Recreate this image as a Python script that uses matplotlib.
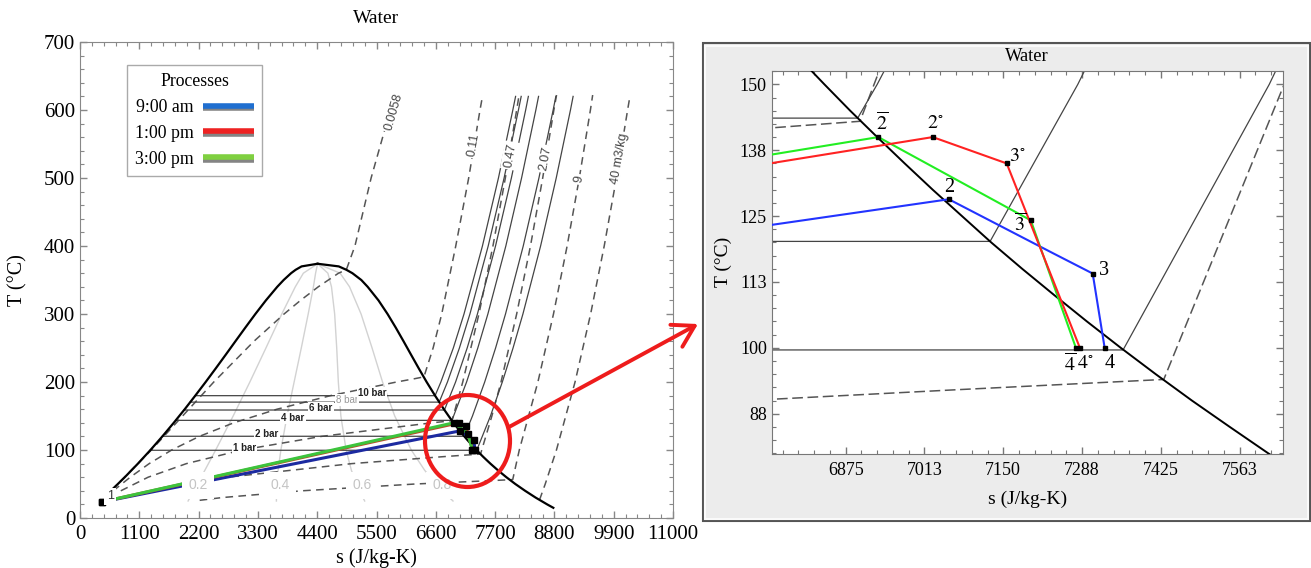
import numpy as np
import matplotlib.pyplot as plt
from matplotlib.ticker import AutoMinorLocator
from matplotlib.patches import Ellipse, Rectangle, FancyArrowPatch
from matplotlib.lines import Line2D
import matplotlib.patheffects as pe

plt.rcParams['font.family'] = ['Liberation Serif', 'DejaVu Serif']
plt.rcParams['mathtext.fontset'] = 'stix'

# saturation dome of water (T in C, s in J/kg-K)
t_liq = [40, 60, 80, 100, 120, 140, 160, 180, 200, 220, 240, 260, 280, 300, 320, 340, 350, 360, 365, 370, 373.9]
s_liq = [572, 831, 1075, 1307, 1528, 1739, 1943, 2139, 2331, 2518, 2702, 2884, 3067, 3253, 3448, 3659, 3778, 3915, 4000, 4110, 4407]
t_vap = [373.9, 370, 365, 360, 350, 340, 320, 300, 280, 260, 240, 220, 200, 180, 160, 155, 150, 145, 140, 135,
         130, 125, 120, 115, 110, 105, 100, 95, 90, 85, 80, 70, 60, 50, 40, 30, 20, 15]
s_vap = [4407, 4800, 4941, 5053, 5218, 5336, 5537, 5705, 5857, 6001, 6142, 6284, 6430, 6586, 6750, 6794, 6838, 6883, 6930, 6978,
         7027, 7078, 7129, 7183, 7239, 7296, 7355, 7416, 7479, 7545, 7612, 7755, 7909, 8075, 8257, 8452, 8666, 8780]

# isobars: flat part inside the dome + superheated part
p_names = ['1 bar', '2 bar', '4 bar', '6 bar', '8 bar', '10 bar']
p_tsat = [99.6, 120.2, 143.6, 158.8, 170.4, 179.9]
p_sf = [1303, 1530, 1777, 1931, 2046, 2138]
p_sg = [7359, 7127, 6896, 6760, 6663, 6587]
sup_t = [[150, 200, 250, 300, 400, 500, 600, 620],
         [150, 200, 250, 300, 400, 500, 600, 620],
         [150, 200, 250, 300, 400, 500, 600, 620],
         [200, 250, 300, 400, 500, 600, 620],
         [200, 250, 300, 400, 500, 600, 620],
         [200, 250, 300, 400, 500, 600, 620]]
sup_s = [[7614, 7834, 8033, 8216, 8544, 8834, 9098, 9147],
         [7280, 7507, 7709, 7893, 8222, 8513, 8777, 8827],
         [6930, 7171, 7379, 7566, 7899, 8191, 8456, 8506],
         [6967, 7182, 7372, 7708, 8002, 8267, 8317],
         [6816, 7038, 7233, 7572, 7867, 8133, 8184],
         [6694, 6925, 7123, 7465, 7762, 8029, 8080]]
p_lbl_s = [3060, 3470, 3950, 4470, 4950, 5420]

# isochores (m3/kg)
v_names = ['0.0058', '0.11', '0.47', '2.07', '9', '40 m3/kg']
v_t = [[40, 100, 200, 260, 300, 320, 340, 360, 365, 400, 500, 570],
       [40, 60, 80, 100, 120, 140, 160, 180, 200, 205, 207.6, 250, 300, 400, 500, 600, 622],
       [40, 60, 80, 100, 120, 140, 143, 200, 300, 400, 500, 600, 622],
       [40, 60, 80, 90, 92, 94, 150, 200, 300, 400, 500, 600, 622],
       [26, 30, 40, 50, 55, 56.5, 100, 200, 300, 400, 500, 600, 622],
       [26.6, 50, 100, 200, 300, 400, 500, 600, 622]]
v_s = [[574, 1324, 2482, 3228, 3785, 4090, 4420, 4795, 4940, 5100, 5400, 5650],
       [615, 932, 1284, 1701, 2213, 2852, 3655, 4651, 5872, 6217, 6380, 6550, 6710, 6970, 7210, 7420, 7470],
       [757, 1264, 1975, 3005, 4477, 6530, 6900, 7100, 7400, 7660, 7890, 8100, 8145],
       [1387, 2741, 5046, 6704, 7060, 7430, 7640, 7810, 8100, 8356, 8583, 8790, 8840],
       [2220, 2630, 4116, 6219, 7643, 8027, 8149, 8494, 8783, 9036, 9262, 9468, 9510],
       [8524, 8630, 8838, 9183, 9472, 9724, 9951, 10158, 10205]]
v_lbl_s = [5830, 7300, 7980, 8630, 9250, 10010]
v_lbl_t = [597, 549, 533, 528, 498, 528]
v_lbl_rot = [74, 80, 80, 80, 80, 80]

# quality lines
q_names = ['0.2', '0.4', '0.6', '0.8']
q_t = [25, 40, 70, 100, 150, 200, 250, 300, 340, 360, 373.9]
q_s = [[2005, 2110, 2315, 2517, 2841, 3151, 3449, 3743, 3994, 4143, 4407],
       [3643, 3646, 3675, 3726, 3840, 3972, 4105, 4233, 4330, 4370, 4407],
       [5281, 5183, 5035, 4936, 4839, 4792, 4762, 4724, 4665, 4598, 4407],
       [6919, 6720, 6395, 6145, 5838, 5612, 5418, 5214, 5000, 4825, 4407]]
q_lbl_s = [2190, 3710, 5230, 6720]

# processes
proc_names = ['9:00 am', '1:00 pm', '3:00 pm']
blue_s = [400, 7055, 7236, 7306, 7327]
blue_t = [23.5, 128.2, 118.0, 114.1, 99.9]
red_s = [400, 7027, 7156, 7284]
red_t = [23.5, 140.0, 135.0, 99.9]
green_s = [400, 6932, 7198, 7277]
green_t = [23.5, 140.0, 124.2, 99.9]
blue_states = [0, 1, 3, 4]

state_lbl = [r'$\overline{2}$', r'$2^{\circ}$', r'$3^{\circ}$', '2', r'$\overline{3}$', '3',
             r'$\overline{4}$', r'$4^{\circ}$', '4']
state_lbl_s = [6939, 7032, 7175, 7055, 7180, 7325, 7266, 7294, 7336]
state_lbl_t = [142.5, 142.5, 136.3, 130.4, 123.4, 114.6, 96.9, 97.1, 97.1]

W, H = 1311, 568
fig = plt.figure(figsize=(W / 100, H / 100), dpi=100)

ax1 = fig.add_axes([80 / W, 1 - 518 / H, 593 / W, 476 / H])
ax2 = fig.add_axes([771.7 / W, 1 - 454 / H, 511.3 / W, 383.3 / H])

# gray box behind the zoomed panel
fig.add_artist(Rectangle((702.7 / W, 1 - 521 / H), 607 / W, 477.7 / H, transform=fig.transFigure,
                         facecolor='#ececec', edgecolor='#555555', lw=1.5, zorder=-2))
fig.add_artist(Rectangle((705 / W, 1 - 518.5 / H), 602.5 / W, 473 / H, transform=fig.transFigure,
                         facecolor='none', edgecolor='#fafafa', lw=1.5, zorder=-1))

sans = ['Liberation Sans', 'DejaVu Sans']


def draw_base(ax, big):
    lw_k = 1.6 if big else 1.4
    ax.plot(s_liq, t_liq, color='black', lw=lw_k, zorder=3)
    ax.plot(s_vap, t_vap, color='black', lw=lw_k, zorder=3)
    dash = (5, 3.5) if big else (7, 3)
    for i in range(len(v_names)):
        ax.plot(v_s[i], v_t[i], color='#555555', lw=1.1, dashes=dash, zorder=2)
    for i in range(len(p_names)):
        ax.plot([p_sf[i], p_sg[i]] + sup_s[i], [p_tsat[i], p_tsat[i]] + sup_t[i],
                color='#444444', lw=0.9, zorder=2)


# ---------- left panel ----------
draw_base(ax1, True)
for i in range(len(q_names)):
    ax1.plot(q_s[i], q_t, color='#d2d2d2', lw=1, zorder=1)
    ax1.text(q_lbl_s[i], 48, q_names[i], family=sans, fontsize=10, color='#c4c4c4', ha='center', va='center',
             zorder=6, bbox=dict(boxstyle='square,pad=0.45', fc='white', ec='none'))
for i in range(len(p_names)):
    light = p_names[i] == '8 bar'
    ax1.text(p_lbl_s[i], p_tsat[i] + 3.5, p_names[i], family=sans, fontsize=7,
             fontweight='normal' if light else 'bold', color='#999999' if light else '#222222',
             ha='center', va='center', zorder=6, bbox=dict(boxstyle='square,pad=0.1', fc='white', ec='none'))
for i in range(len(v_names)):
    ax1.text(v_lbl_s[i], v_lbl_t[i], v_names[i], family=sans, fontsize=9, color='#444444', rotation=v_lbl_rot[i],
             ha='center', va='center', zorder=6, bbox=dict(boxstyle='square,pad=0.15', fc='white', ec='none'))

ax1.plot(blue_s, blue_t, color='#1c2aa0', lw=2.2, zorder=4)
ax1.plot(red_s, red_t, color='#b84a2a', lw=2.2, zorder=4)
ax1.plot(green_s, green_t, color='#3cc43c', lw=2.2, zorder=4)
ax1.plot([blue_s[k] for k in blue_states], [blue_t[k] for k in blue_states], 's', color='black', ms=4.5, zorder=5)
ax1.plot(red_s, red_t, 's', color='black', ms=4.5, zorder=5)
ax1.plot(green_s[1:], green_t[1:], 's', color='black', ms=4.5, zorder=5)
ax1.text(565, 32, '1', family=sans, fontsize=9, color='#333333', ha='center', va='center', zorder=6,
         bbox=dict(boxstyle='square,pad=0.2', fc='white', ec='none'))

ax1.set_xlim(0, 11000)
ax1.set_ylim(0, 700)
ax1.set_xticks(np.arange(0, 11001, 1100))
ax1.set_yticks(np.arange(0, 701, 100))
ax1.xaxis.set_minor_locator(AutoMinorLocator(5))
ax1.yaxis.set_minor_locator(AutoMinorLocator(5))
ax1.tick_params(which='both', direction='in', top=True, right=True, color='#888888', labelsize=15)
ax1.tick_params(which='major', length=5, width=1)
ax1.tick_params(which='minor', length=3, width=0.8)
ax1.tick_params(axis='x', pad=5)
for sp in ax1.spines.values():
    sp.set_color('#888888')
ax1.set_xlabel('s (J/kg-K)', fontsize=14.5)
ax1.set_ylabel('T (°C)', fontsize=14.5)
ax1.xaxis.set_label_coords(0.5, -0.063)
ax1.yaxis.set_label_coords(-0.088, 0.5)
ax1.text(0.5, 1.05, 'Water', transform=ax1.transAxes, ha='center', va='center', fontsize=14)

colors_leg = ['#1f6fd0', '#ee2222', '#7fd040']
handles = [Line2D([], [], color=c, lw=4, solid_capstyle='butt',
                  path_effects=[pe.SimpleLineShadow(offset=(0, -1.8), shadow_color='#777777', alpha=0.9, rho=1),
                                pe.Normal()]) for c in colors_leg]
leg = ax1.legend(handles, proc_names, title='Processes', loc='upper left', bbox_to_anchor=(0.079, 0.952),
                 borderaxespad=0, markerfirst=False, fontsize=12.8, title_fontsize=12.8, handlelength=2.9,
                 handletextpad=0.5, labelspacing=0.5, borderpad=0.45, fancybox=False, framealpha=1,
                 edgecolor='#aaaaaa')
leg.get_frame().set_linewidth(1)
leg.set_zorder(7)

# ---------- right panel (zoom) ----------
draw_base(ax2, False)
ax2.plot(blue_s, blue_t, color='#2233ff', lw=1.5, zorder=4)
ax2.plot(green_s, green_t, color='#22ee22', lw=1.5, zorder=4)
ax2.plot(red_s, red_t, color='#ff2222', lw=1.5, zorder=4)
ax2.plot([blue_s[k] for k in blue_states[1:]], [blue_t[k] for k in blue_states[1:]], 's', color='black', ms=3.5, zorder=5)
ax2.plot(red_s[1:], red_t[1:], 's', color='black', ms=3.5, zorder=5)
ax2.plot(green_s[1:], green_t[1:], 's', color='black', ms=3.5, zorder=5)
for i in range(len(state_lbl)):
    ax2.text(state_lbl_s[i], state_lbl_t[i], state_lbl[i], fontsize=14.5, ha='center', va='center', zorder=6)

ax2.set_xlim(6746, 7638)
ax2.set_ylim(79.85, 152.6)
ax2.set_xticks([6875, 7012.5, 7150, 7287.5, 7425, 7562.5])
ax2.set_xticklabels(['6875', '7013', '7150', '7288', '7425', '7563'])
ax2.set_yticks([87.5, 100, 112.5, 125, 137.5, 150])
ax2.set_yticklabels(['88', '100', '113', '125', '138', '150'])
ax2.xaxis.set_minor_locator(AutoMinorLocator(5))
ax2.yaxis.set_minor_locator(AutoMinorLocator(5))
ax2.tick_params(which='both', direction='in', top=True, right=True, color='#777777', labelsize=13)
ax2.tick_params(which='major', length=5, width=1)
ax2.tick_params(which='minor', length=3, width=0.8)
ax2.tick_params(axis='x', pad=6)
for sp in ax2.spines.values():
    sp.set_color('#777777')
ax2.set_xlabel('s (J/kg-K)', fontsize=14)
ax2.set_ylabel('T (°C)', fontsize=14)
ax2.xaxis.set_label_coords(0.5, -0.095)
ax2.yaxis.set_label_coords(-0.078, 0.5)
ax2.text(0.5, 1.036, 'Water', transform=ax2.transAxes, ha='center', va='center', fontsize=13.3)

# red circle and arrow pointing to the zoom
fig.add_artist(Ellipse((467.5 / W, 1 - 441 / H), 85 / W, 92 / H, transform=fig.transFigure,
                       fill=False, ec='#ee1c1c', lw=3, zorder=8))
fig.add_artist(FancyArrowPatch((509 / W, 1 - 427 / H), (698 / W, 1 - 324 / H), transform=fig.transFigure,
                               arrowstyle='->,head_length=15,head_width=9', color='#ee1c1c', lw=2.8,
                               shrinkA=0, shrinkB=0, zorder=8))

fig.savefig('out.png', dpi=100)
